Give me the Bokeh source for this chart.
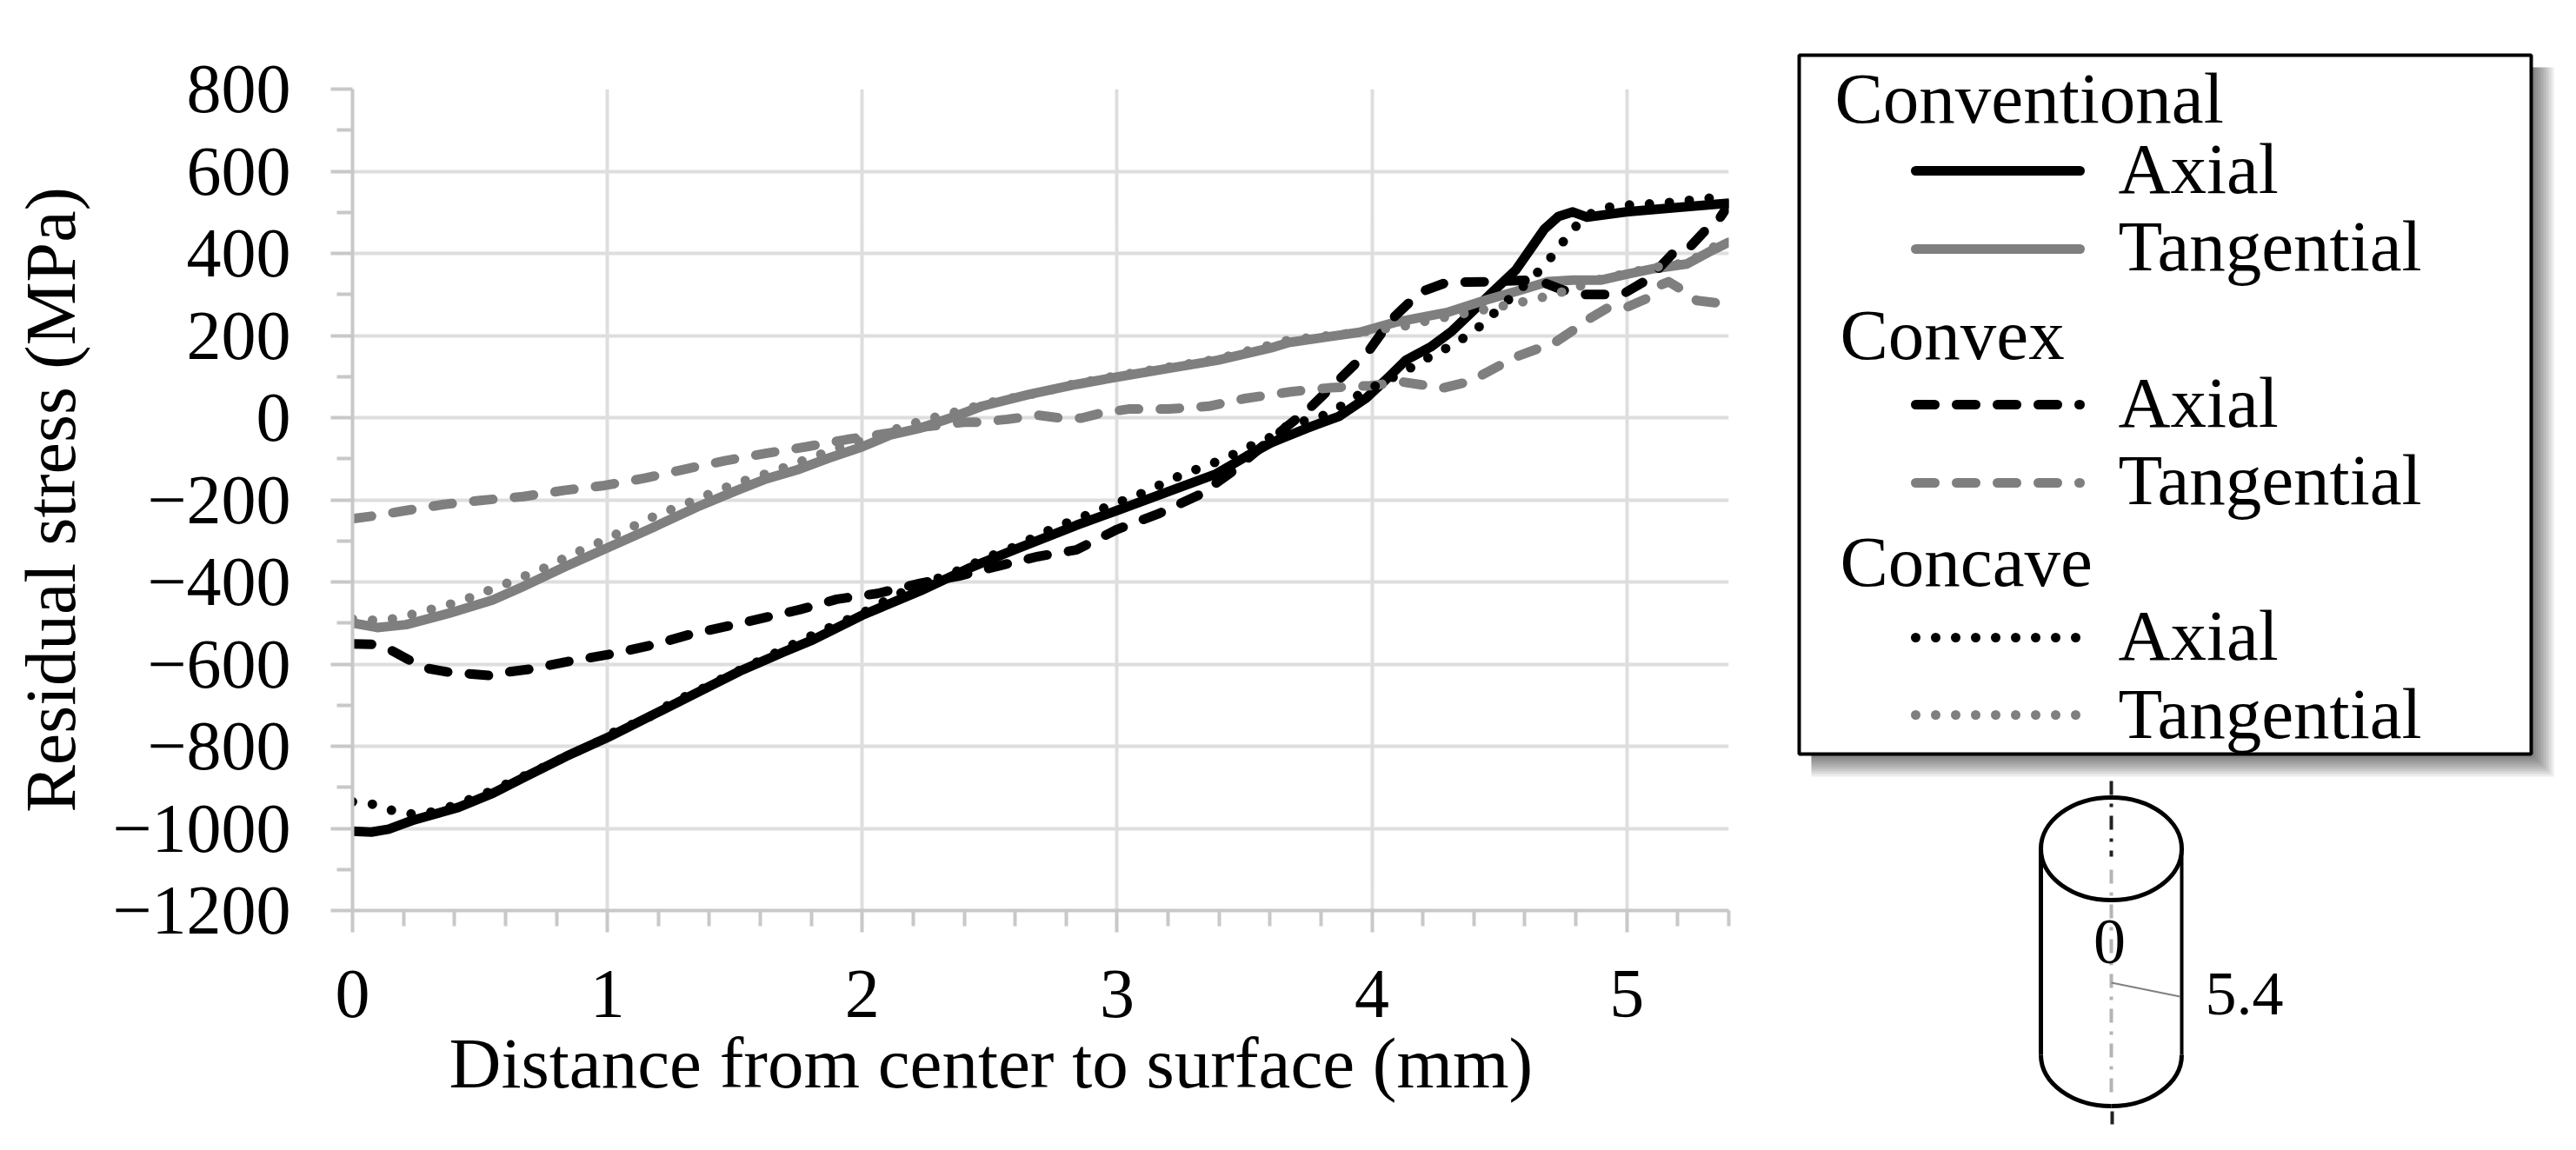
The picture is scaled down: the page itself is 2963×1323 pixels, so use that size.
from bokeh.embed import file_html
from bokeh.resources import INLINE
from bokeh.plotting import figure
from bokeh.layouts import row
from bokeh.models import FixedTicker, Range1d, Title
from bokeh.core.properties import value

# ---------- data ----------
conv_axial_x = [0,.074,.142,.233,.415,.552,.666,.837,1,1.18,1.35,1.52,1.69,1.806,2,2.23,2.413,2.595,2.84,3,3.2,3.385,3.51,3.604,3.743,3.87,3.98,4.064,4.133,4.23,4.314,4.398,4.48,4.565,4.62,4.676,4.732,4.788,4.844,4.997,5.206,5.4]
conv_axial_y = [-1007,-1009,-1002,-981,-949,-914,-878,-825,-779,-723,-670,-617,-571,-541,-481,-421,-368,-322,-262,-226,-180,-138,-93,-61,-26,3,49,98,140,172,211,261,310,360,409,459,490,501,488,501,512,522]

conv_tang_x = [0,.097,.21,.38,.55,.666,.837,1,1.18,1.35,1.5,1.623,1.745,1.866,2,2.11,2.23,2.35,2.47,2.656,2.84,3,3.2,3.395,3.604,3.674,3.952,4.09,4.3,4.44,4.58,4.69,4.788,4.9,4.997,5.108,5.234,5.318,5.4]
conv_tang_y = [-500,-511,-504,-476,-444,-412,-362,-317,-267,-218,-179,-149,-127,-99,-71,-42,-25,0,28,57,81,99,120,140,170,183,208,232,257,285,310,331,335,335,349,363,374,402,427]

convex_axial_x = [0,.085,.154,.228,.29,.38,.54,.6,.7,.86,1.02,1.18,1.34,1.5,1.645,1.757,1.9,2.06,2.23,2.377,2.535,2.69,2.84,3,3.166,3.325,3.446,3.55,3.757,3.938,3.987,4.043,4.078,4.154,4.196,4.287,4.356,4.454,4.62,4.677,4.753,4.83,4.927,4.99,5.067,5.12,5.19,5.248,5.317,5.366,5.4]
convex_axial_y = [-551,-552,-567,-592,-610,-620,-628,-620,-612,-592,-575,-553,-525,-504,-483,-467,-442,-428,-403,-386,-361,-338,-322,-272,-233,-187,-134,-80,24,133,162,211,240,285,307,328,330,331,335,328,310,300,300,303,331,360,406,416,462,487,519]

convex_tang_x = [0,.085,.2,.36,.51,.67,.83,.99,1.15,1.3,1.46,1.62,1.78,1.94,2.1,2.25,2.4,2.45,2.57,2.69,2.765,2.86,2.936,3.045,3.2,3.36,3.495,3.68,3.84,3.994,4.12,4.196,4.27,4.356,4.426,4.51,4.565,4.656,4.718,4.795,4.85,4.927,4.997,5.088,5.136,5.164,5.22,5.275,5.373]
convex_tang_y = [-246,-239,-227,-211,-201,-192,-177,-165,-147,-126,-105,-87,-71,-53,-38,-22,-11,-11,-4,6,0,-1,11,21,21,28,46,63,73,78,87,80,71,84,102,130,148,169,183,215,240,268,268,293,324,331,310,285,278]

concave_axial_x = [0,.077,.154,.233,.313,.39,.467,.54,.615,.69,.764,.837,.911,.983,1.053,1.128,1.2,1.26,1.34,1.407,1.475,1.55,1.62,1.696,1.766,1.84,1.915,1.988,2.06,2.134,2.207,2.34,2.42,2.49,2.57,2.644,2.714,2.787,2.863,2.936,3.01,3.087,3.16,3.233,3.306,3.38,3.458,3.527,3.604,3.695,3.757,3.827,3.896,3.966,4.036,4.105,4.175,4.245,4.314,4.384,4.447,4.502,4.565,4.677,4.728,4.777,4.83,4.9,4.983,5.136,5.3,5.387]
concave_axial_y = [-935,-941,-956,-965,-960,-946,-928,-910,-889,-868,-847,-825,-804,-783,-755,-741,-716,-691,-670,-649,-628,-606,-585,-562,-541,-520,-499,-480,-456,-432,-410,-382,-361,-340,-322,-301,-279,-260,-242,-223,-205,-187,-166,-145,-127,-110,-89,-68,-47,-8,-8,10,34,63,84,105,130,155,176,204,234,269,303,370,411,449,487,510,517,522,533,538]

concave_tang_x = [0,.077,.156,.233,.313,.39,.467,.54,.615,.69,.764,.837,.911,.983,1.053,1.128,1.2,1.276,1.35,1.427,1.5,1.57,1.65,1.73,1.806,1.885,2.18,2.255,2.41,2.486,2.717,2.8,3.0,3.2,3.395,3.674,3.952,4.147,4.217,4.537,4.614,4.69,4.767,4.9,5.108,5.234,5.318,5.373]
concave_tang_y = [-490,-493,-490,-479,-466,-453,-437,-419,-401,-382,-363,-340,-319,-300,-278,-257,-235,-218,-199,-179,-161,-147,-131,-113,-96,-78,-18,-4,21,35,64,78,102,123,143,189,208,225,236,275,285,296,310,338,366,377,405,430]

y_ticks = [-1200,-1000,-800,-600,-400,-200,0,200,400,600,800]
y_tick_labels = ["\u22121200","\u22121000","\u2212800","\u2212600","\u2212400","\u2212200","0","200","400","600","800"]
y_minor = [-1100,-900,-700,-500,-300,-100,100,300,500,700]
x_ticks = [0,1,2,3,4,5]
x_minor = [.2,.4,.6,.8,1.2,1.4,1.6,1.8,2.2,2.4,2.6,2.8,3.2,3.4,3.6,3.8,4.2,4.4,4.6,4.8,5.2,5.4]
x_title = "Distance from center to surface (mm)"
y_title = "Residual stress (MPa)"
legend_heads = ["Conventional", "Convex", "Concave"]
legend_rows = ["Axial", "Tangential", "Axial", "Tangential", "Axial", "Tangential"]

# ---------- styles ----------
FONT = "Liberation Serif"
BLACK, GRAY = "#000000", "#7f7f7f"
LW = 11
SOLID, DASH, DOT = "solid", "22 25", "0 23"

p = figure(width=2028, height=1315, x_range=Range1d(0, 5.4), y_range=Range1d(-1200, 800),
           min_border_left=405, min_border_right=40, min_border_top=102, min_border_bottom=268,
           output_backend="svg", toolbar_location=None, background_fill_color="white",
           border_fill_color="white", outline_line_color=None)
p.frame_align = False

p.xaxis.ticker = FixedTicker(ticks=x_ticks, minor_ticks=x_minor)
p.yaxis.ticker = FixedTicker(ticks=y_ticks, minor_ticks=y_minor)
p.yaxis.major_label_overrides = dict(zip(y_ticks, y_tick_labels))
p.xgrid.ticker = FixedTicker(ticks=x_ticks + [5.4])
p.ygrid.ticker = FixedTicker(ticks=y_ticks)
p.grid.grid_line_color = "#dedede"
p.grid.grid_line_width = 4
for ax in (p.xaxis[0], p.yaxis[0]):
    ax.axis_line_color = "#c8c8c8"
    ax.axis_line_width = 4
    ax.major_tick_line_color = "#c8c8c8"
    ax.major_tick_line_width = 4
    ax.minor_tick_line_color = "#c8c8c8"
    ax.minor_tick_line_width = 4
    ax.major_tick_in = 0
    ax.major_tick_out = 25
    ax.minor_tick_in = 0
    ax.minor_tick_out = 18
    ax.major_label_text_font = FONT
    ax.major_label_text_font_size = "80px"
    ax.major_label_text_color = "black"
p.xaxis.major_label_standoff = 44
p.yaxis.major_label_standoff = 46
p.yaxis.axis_label = y_title
p.yaxis.axis_label_text_font = FONT
p.yaxis.axis_label_text_font_size = "82px"
p.yaxis.axis_label_text_font_style = "normal"
p.yaxis.axis_label_text_color = "black"
p.yaxis.axis_label_standoff = 22

# The x title sits left of the frame's centre, so it is placed with an offset.
p.add_layout(Title(text=x_title, align="left", offset=111, text_font=FONT, text_font_size="83px",
                   text_font_style="normal", text_color="black", standoff=5), "below")

series = [(conv_axial_x, conv_axial_y, BLACK, SOLID),
          (conv_tang_x, conv_tang_y, GRAY, SOLID),
          (convex_axial_x, convex_axial_y, BLACK, DASH),
          (convex_tang_x, convex_tang_y, GRAY, DASH),
          (concave_axial_x, concave_axial_y, BLACK, DOT),
          (concave_tang_x, concave_tang_y, GRAY, DOT)]
for xs, ys, c, d in series:
    p.line(xs, ys, line_color=c, line_width=LW, line_dash=d, line_cap="round", line_join="round")

# ---------- legend and cylinder sketch, in page pixels ----------
X0, Y0, W2, H2 = 2028, 0, 927, 1315
q = figure(width=W2, height=H2, x_range=Range1d(X0, X0 + W2), y_range=Range1d(Y0 + H2, Y0),
           min_border=0, output_backend="svg", toolbar_location=None, outline_line_color=None,
           background_fill_color="white", border_fill_color="white", x_axis_type=None, y_axis_type=None)
q.frame_align = False
q.grid.visible = False

for i in range(8):
    d = 26 - 3 * i
    q.quad(left=2069 + 14, right=2911 + d, top=63 + 14, bottom=867 + d,
           fill_color="#000000", fill_alpha=0.075, line_color=None)
q.quad(left=2069, right=2911, top=63, bottom=867, fill_color="white", line_color="black", line_width=4)

def txt(x, y, s, size=83, align="left"):
    # the text glyph's alphabetic anchor lands about a third of the size too low
    q.text([x], [y - 0.32 * size], text=[s], text_font=value(FONT), text_font_size=value(f"{size}px"),
           text_baseline="alphabetic", text_align=align, text_color="black")

for x, y, s in zip([2110, 2116, 2116], [139, 411, 672], legend_heads):
    txt(x, y, s)
row_base = [220, 309, 489, 578, 757, 847]
row_line = [196, 286, 465, 555, 733, 822]
row_style = [(BLACK, SOLID), (GRAY, SOLID), (BLACK, DASH), (GRAY, DASH), (BLACK, DOT), (GRAY, DOT)]
for yb, yl, s, (c, d) in zip(row_base, row_line, legend_rows, row_style):
    txt(2436, yb, s)
    q.line([2203, 2392], [yl, yl], line_color=c, line_width=LW, line_dash=d, line_cap="round")

# cylinder
cx, rx, ry = 2428, 81, 59
ytop, ybot = 976, 1213
k = 0.5523
q.ellipse(x=[cx], y=[ytop], width=[2 * rx], height=[2 * ry], fill_color=None, line_color="black", line_width=5)
q.line([cx - rx, cx - rx], [ytop, ybot], line_color="black", line_width=5)
q.line([cx + rx, cx + rx], [ytop, ybot], line_color="black", line_width=4)
q.bezier(x0=[cx - rx], y0=[ybot], x1=[cx], y1=[ybot + ry], cx0=[cx - rx], cy0=[ybot + k * ry],
         cx1=[cx - k * rx], cy1=[ybot + ry], line_color="black", line_width=5)
q.bezier(x0=[cx + rx], y0=[ybot], x1=[cx], y1=[ybot + ry], cx0=[cx + rx], cy0=[ybot + k * ry],
         cx1=[cx + k * rx], cy1=[ybot + ry], line_color="black", line_width=5)
q.line([cx, cx], [898, 985], line_color="#222222", line_width=4, line_dash="16 10 4 10")
q.line([cx, cx], [1000, 1258], line_color="#b4b4b4", line_width=4, line_dash="16 10 4 10")
q.line([cx + 1, cx + 1], [1278, 1293], line_color="#222222", line_width=4)
q.line([cx, cx + 79], [1130, 1146], line_color="#808080", line_width=2)
txt(cx - 2, 1107, "0", size=74, align="center")
txt(2536, 1166, "5.4", size=72)

page = row(p, q)
open("out.html", "w").write(file_html(page, INLINE))
